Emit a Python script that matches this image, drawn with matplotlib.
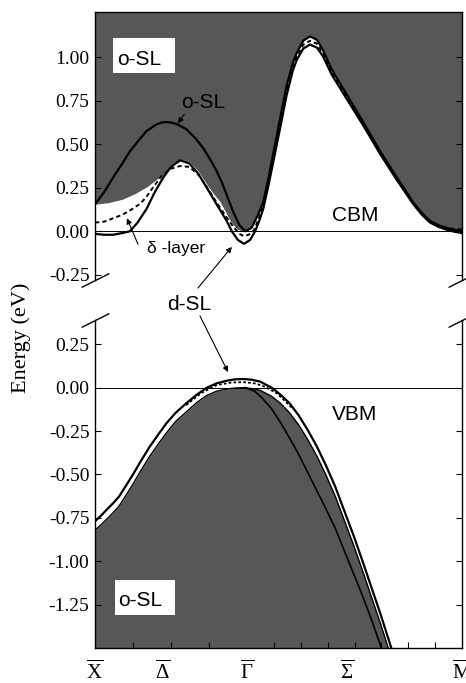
import matplotlib
matplotlib.use("Agg")
import matplotlib.pyplot as plt
from matplotlib.patches import Rectangle

# ---------------- data ----------------
# x positions of the symmetry points (X-Gamma = 1, Gamma-M = sqrt 2)
X_LABEL_POS = [0.0, 0.447, 1.0, 1.658, 2.414]
X_LABELS = [r'$\overline{\mathrm{X}}$', r'$\overline{\Delta}$', r'$\overline{\Gamma}$',
            r'$\overline{\Sigma}$', r'$\overline{\mathrm{M}}$']
X_MINOR = [0.25, 0.5, 0.75, 1.0, 1.177, 1.354, 1.53, 1.707, 1.884, 2.06, 2.237]
Y_TICKS_TOP = [-0.25, 0.0, 0.25, 0.50, 0.75, 1.00]
Y_TICKS_BOT = [-1.25, -1.00, -0.75, -0.50, -0.25, 0.0, 0.25]

# conduction band region (top panel)
K_OSL_C = [0.00, 0.06, 0.12, 0.18, 0.23, 0.29, 0.34, 0.40, 0.435, 0.47, 0.505, 0.54, 0.60, 0.66,
           0.71, 0.76, 0.80, 0.835, 0.866, 0.91, 0.95, 0.99, 1.03, 1.07, 1.107, 1.14, 1.173,
           1.217, 1.26, 1.30, 1.327, 1.37, 1.414, 1.46, 1.50, 1.557, 1.656, 1.763, 1.875,
           1.985, 2.094, 2.15, 2.204, 2.26, 2.31, 2.36, 2.414]
E_OSL_C = [0.155, 0.225, 0.31, 0.39, 0.46, 0.525, 0.577, 0.612, 0.624, 0.628, 0.624, 0.615,
           0.587, 0.535, 0.48, 0.41, 0.346, 0.28, 0.21, 0.11, 0.035, 0.0, 0.02, 0.09, 0.17, 0.30,
           0.45, 0.645, 0.835, 0.965, 1.025, 1.095, 1.12, 1.10, 1.04, 0.93, 0.785, 0.63, 0.46,
           0.31, 0.165, 0.105, 0.06, 0.035, 0.02, 0.008, 0.0]

K_CB_EDGE = [0.00, 0.09, 0.18, 0.26, 0.34, 0.40, 0.45, 0.50, 0.56, 0.62, 0.68, 0.735, 0.78, 0.82,
             0.86, 0.89, 0.93, 0.96, 0.99, 1.03, 1.07, 1.107, 1.14, 1.173, 1.217, 1.26, 1.30,
             1.327, 1.37, 1.414, 1.46, 1.50, 1.557, 1.656, 1.763, 1.875, 1.985, 2.094, 2.15,
             2.204, 2.26, 2.31, 2.36, 2.414]
E_CB_EDGE = [0.155, 0.165, 0.184, 0.215, 0.255, 0.295, 0.325, 0.38, 0.415, 0.40, 0.345, 0.27,
             0.215, 0.173, 0.11, 0.058, 0.015, 0.003, 0.0, 0.02, 0.09, 0.17, 0.30, 0.45, 0.645,
             0.835, 0.965, 1.025, 1.095, 1.12, 1.10, 1.04, 0.93, 0.785, 0.63, 0.46, 0.31, 0.165,
             0.105, 0.06, 0.035, 0.02, 0.008, 0.0]

K_DSL_C = [0.00, 0.06, 0.12, 0.18, 0.23, 0.28, 0.34, 0.39, 0.45, 0.50, 0.56, 0.62, 0.68, 0.735,
           0.80, 0.866, 0.90, 0.94, 0.98, 1.02, 1.053, 1.08, 1.107, 1.14, 1.173, 1.217, 1.26,
           1.30, 1.327, 1.37, 1.414, 1.46, 1.50, 1.557, 1.656, 1.763, 1.875, 1.985, 2.094,
           2.15, 2.204, 2.26, 2.31, 2.36, 2.414]
E_DSL_C = [-0.015, -0.02, -0.02, -0.01, 0.0, 0.05, 0.13, 0.22, 0.31, 0.37, 0.408, 0.39, 0.33,
           0.25, 0.155, 0.06, 0.0, -0.05, -0.072, -0.05, 0.0, 0.06, 0.13, 0.26, 0.40, 0.59, 0.78,
           0.92, 0.985, 1.05, 1.073, 1.055, 1.005, 0.90, 0.76, 0.61, 0.445, 0.295, 0.155, 0.095,
           0.05, 0.025, 0.01, -0.002, -0.01]

K_DLT_C = [0.00, 0.06, 0.12, 0.18, 0.24, 0.30, 0.34, 0.38, 0.44, 0.50, 0.56, 0.62, 0.68, 0.735,
           0.80, 0.866, 0.91, 0.95, 0.98, 1.01, 1.045, 1.08, 1.107, 1.14, 1.173, 1.217, 1.26,
           1.30, 1.327, 1.37, 1.414, 1.46, 1.50, 1.557, 1.656, 1.763, 1.875, 1.985, 2.094,
           2.15, 2.204, 2.26, 2.31, 2.36, 2.414]
E_DLT_C = [0.05, 0.055, 0.075, 0.095, 0.125, 0.16, 0.20, 0.25, 0.32, 0.36, 0.375, 0.37, 0.325,
           0.255, 0.165, 0.08, 0.025, -0.015, -0.028, -0.02, 0.005, 0.08, 0.15, 0.28, 0.425,
           0.62, 0.805, 0.945, 1.005, 1.072, 1.095, 1.078, 1.022, 0.915, 0.77, 0.62, 0.452,
           0.302, 0.16, 0.10, 0.055, 0.032, 0.02, 0.013, 0.01]

# valence band region (bottom panel)
K_VB = [0.00, 0.04, 0.08, 0.12, 0.16, 0.20, 0.25, 0.30, 0.36, 0.42, 0.47, 0.53, 0.60, 0.67,
        0.735, 0.80, 0.866, 0.92, 0.976, 1.03, 1.086, 1.162, 1.22, 1.28, 1.34, 1.40, 1.46, 1.52,
        1.58, 1.64, 1.70, 1.76, 1.82, 1.88, 1.94, 1.97]
E_VB_DSL = [-0.77, -0.737, -0.70, -0.665, -0.625, -0.57, -0.50, -0.425, -0.34, -0.265, -0.205,
            -0.145, -0.09, -0.04, 0.0, 0.025, 0.04, 0.048, 0.05, 0.046, 0.035, 0.0, -0.04,
            -0.09, -0.16, -0.245, -0.34, -0.45, -0.57, -0.71, -0.85, -1.00, -1.155, -1.31,
            -1.475, -1.56]
E_VB_EDGE = [-0.82, -0.79, -0.755, -0.72, -0.68, -0.625, -0.555, -0.48, -0.395, -0.32, -0.26,
             -0.195, -0.14, -0.085, -0.045, -0.02, -0.008, -0.002, 0.0, -0.005, -0.015, -0.05,
             -0.09, -0.145, -0.215, -0.30, -0.395, -0.505, -0.625, -0.765, -0.905, -1.055,
             -1.21, -1.365, -1.53, -1.61]

K_VB_DLT = [0.60, 0.70, 0.80, 0.90, 0.976, 1.05, 1.12, 1.20, 1.30]
E_VB_DLT = [-0.10, -0.03, 0.015, 0.03, 0.032, 0.025, 0.005, -0.035, -0.12]

K_VB_IN = [0.99, 1.05, 1.10, 1.16, 1.22, 1.28, 1.34, 1.40, 1.46, 1.52, 1.58, 1.64, 1.70, 1.76,
           1.82, 1.88, 1.90]
E_VB_IN = [0.0, -0.02, -0.06, -0.12, -0.20, -0.29, -0.385, -0.49, -0.595, -0.70, -0.81, -0.94,
           -1.07, -1.20, -1.34, -1.49, -1.54]

# ---------------- style ----------------
plt.rcParams['font.family'] = ['Liberation Serif', 'DejaVu Serif']
plt.rcParams['mathtext.fontset'] = 'custom'
plt.rcParams['mathtext.rm'] = 'Liberation Serif'
plt.rcParams['mathtext.it'] = 'Liberation Serif:italic'
plt.rcParams['mathtext.bf'] = 'Liberation Serif:bold'
plt.rcParams['axes.unicode_minus'] = False
SANS = ['Liberation Sans', 'DejaVu Sans']
DARK = '#575757'
LW = 1.6

fig = plt.figure(figsize=(4.66, 6.83), dpi=100)
ax_t = fig.add_axes([95 / 466, 1 - 280 / 683, 367 / 466, 268 / 683])
ax_b = fig.add_axes([95 / 466, 1 - 648 / 683, 367 / 466, 328 / 683])

xlim = (X_LABEL_POS[0], X_LABEL_POS[-1])

# ---- top panel ----
ax_t.fill_between(K_CB_EDGE, E_CB_EDGE, 1.4, color=DARK, lw=0, zorder=1)
ax_t.axhline(0, color='k', lw=0.7, zorder=1.5)
ax_t.plot(K_OSL_C, E_OSL_C, color='k', lw=LW, zorder=3)
ax_t.plot(K_DSL_C, E_DSL_C, color='k', lw=LW, zorder=3)
ax_t.plot(K_DLT_C, E_DLT_C, color='k', lw=1.4, ls=(0, (2.2, 1.6)), zorder=3)
ax_t.set_xlim(*xlim)
ax_t.set_ylim(-0.28, 1.26)
ax_t.set_yticks(Y_TICKS_TOP)
ax_t.set_yticklabels(['%.2f' % v for v in Y_TICKS_TOP])
ax_t.set_xticks([])
ax_t.spines['bottom'].set_visible(False)

# ---- bottom panel ----
ax_b.fill_between(K_VB, -1.7, E_VB_EDGE, color=DARK, lw=0, zorder=1)
ax_b.axhline(0, color='k', lw=0.7, zorder=1.5)
ax_b.plot(K_VB, E_VB_DSL, color='k', lw=LW, zorder=3)
ax_b.plot(K_VB, E_VB_EDGE, color='k', lw=1.0, zorder=2.5)
ax_b.plot(K_VB_IN, E_VB_IN, color='k', lw=1.2, zorder=2.5)
ax_b.plot(K_VB_DLT, E_VB_DLT, color='k', lw=1.3, ls=(0, (1.5, 1.2)), zorder=3)
ax_b.set_xlim(*xlim)
ax_b.set_ylim(-1.5, 0.39)
ax_b.set_yticks(Y_TICKS_BOT)
ax_b.set_yticklabels(['%.2f' % v for v in Y_TICKS_BOT])
ax_b.set_xticks(X_LABEL_POS)
ax_b.set_xticklabels(X_LABELS)
ax_b.set_xticks(X_MINOR, minor=True)
ax_b.tick_params(axis='x', which='major', length=0, pad=9, labelsize=15)
ax_b.tick_params(axis='x', which='minor', direction='in', length=4, width=0.8)
ax_b.spines['top'].set_visible(False)

for ax in (ax_t, ax_b):
    ax.tick_params(axis='y', which='major', direction='in', left=True, right=True,
                   length=4, width=0.8, labelsize=14, pad=4)
    for s in ax.spines.values():
        s.set_linewidth(1.0)

# break marks
kw = dict(marker=[(-1, -0.5), (1, 0.5)], markersize=20, linestyle='none',
          color='k', mec='k', mew=1.0, clip_on=False)
ax_t.plot([0, 1], [0, 0], transform=ax_t.transAxes, **kw)
ax_b.plot([0, 1], [1, 1], transform=ax_b.transAxes, **kw)

# labels
ax_t.add_patch(Rectangle((0.118, 0.911), 0.408, 0.202, facecolor='white',
                         edgecolor='none', zorder=4))
ax_t.text(0.145, 0.957, 'o-SL', family=SANS, fontsize=15, va='baseline', ha='left', zorder=5)
ax_b.add_patch(Rectangle((0.132, -1.308), 0.394, 0.202, facecolor='white',
                         edgecolor='none', zorder=4))
ax_b.text(0.151, -1.26, 'o-SL', family=SANS, fontsize=15, va='baseline', ha='left', zorder=5)

arrow = dict(arrowstyle='-|>', color='k', lw=0.8, mutation_scale=8, shrinkA=0, shrinkB=0)
ax_t.annotate('o-SL', xy=(0.546, 0.62), xytext=(0.71, 0.71), family=SANS, fontsize=15,
              ha='center', va='baseline', zorder=5,
              arrowprops=dict(arrow, relpos=(0.12, 0.0)))
ax_t.text(1.71, 0.058, 'CBM', family=SANS, fontsize=15, ha='center', va='baseline', zorder=5)
ax_b.text(1.71, -0.186, 'VBM', family=SANS, fontsize=15, ha='center', va='baseline', zorder=5)
ax_t.text(0.342, -0.127, 'δ -layer', family=SANS, fontsize=12.5, ha='left', va='baseline')
ax_t.annotate('', xy=(0.21, 0.075), xytext=(0.283, -0.075), arrowprops=arrow)

fig.text(189 / 466, 1 - 310 / 683, 'd-SL', family=SANS, fontsize=15, ha='center', va='baseline')
ax_t.annotate('', xy=(0.90, -0.09), xytext=(198 / 466, 1 - 288 / 683),
              textcoords='figure fraction', arrowprops=arrow, annotation_clip=False)
ax_b.annotate('', xy=(0.875, 0.09), xytext=(200 / 466, 1 - 316 / 683),
              textcoords='figure fraction', arrowprops=arrow, annotation_clip=False)

fig.text(21 / 466, 1 - 338 / 683, 'Energy (eV)', rotation=90, ha='center', va='center',
         fontsize=16)

fig.savefig('out.png', dpi=100)
